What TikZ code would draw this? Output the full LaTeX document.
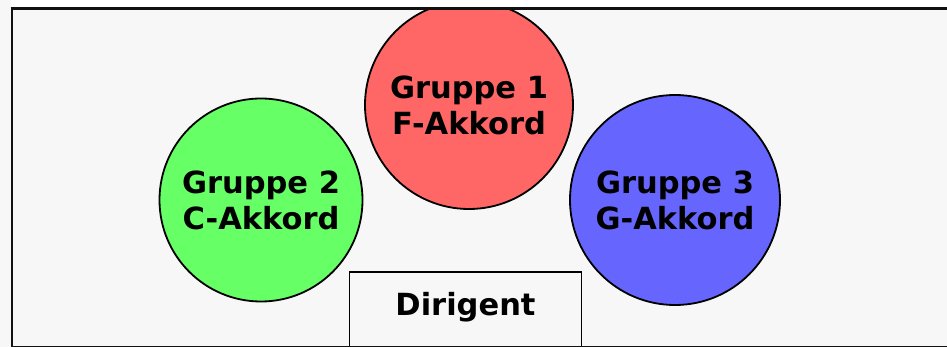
\documentclass[tikz,border=0pt]{standalone}
\usepackage{fontspec}
\setmainfont{DejaVu Sans}
\definecolor{bg}{HTML}{F7F7F7}
\definecolor{gred}{HTML}{FF6666}
\definecolor{ggreen}{HTML}{66FF66}
\definecolor{gblue}{HTML}{6666FF}
\definecolor{frame}{HTML}{111111}
\tikzset{
  grp/.style={circle, draw=black, line width=1.8pt, inner sep=0pt, align=center,
    font=\fontsize{30.5}{36}\selectfont\bfseries},
  dirbox/.style={rectangle, draw=black, line width=1.8pt, inner sep=0pt,
    font=\fontsize{30.5}{36}\selectfont\bfseries},
}
\begin{document}
\begin{tikzpicture}[x=1pt,y=-1pt]
\useasboundingbox (0,0) rectangle (947,347);
\fill[bg] (0,0) rectangle (947,347);
\node[grp, fill=gred, minimum size=208pt, text depth=-5pt] (g1) at (469,105) {Gruppe 1\\F-Akkord};
\node[grp, fill=ggreen, minimum size=203pt, text depth=-5pt] (g2) at (261,200) {Gruppe 2\\C-Akkord};
\node[grp, fill=gblue, minimum size=210pt, text depth=-5pt] (g3) at (675,200) {Gruppe 3\\G-Akkord};
\node[dirbox, minimum width=232pt, minimum height=76pt, text depth=12pt] (dir) at (465.5,310) {Dirigent};
\fill[white] (11,0) rectangle (947,7.3);
\draw[frame, line width=3pt] (10.5,8.7) -- (947,8.7);
\draw[frame, line width=1.8pt] (11.8,7.2) -- (11.8,347);
\draw[frame, line width=1.6pt] (11,346.3) -- (947,346.3);
\end{tikzpicture}
\end{document}
